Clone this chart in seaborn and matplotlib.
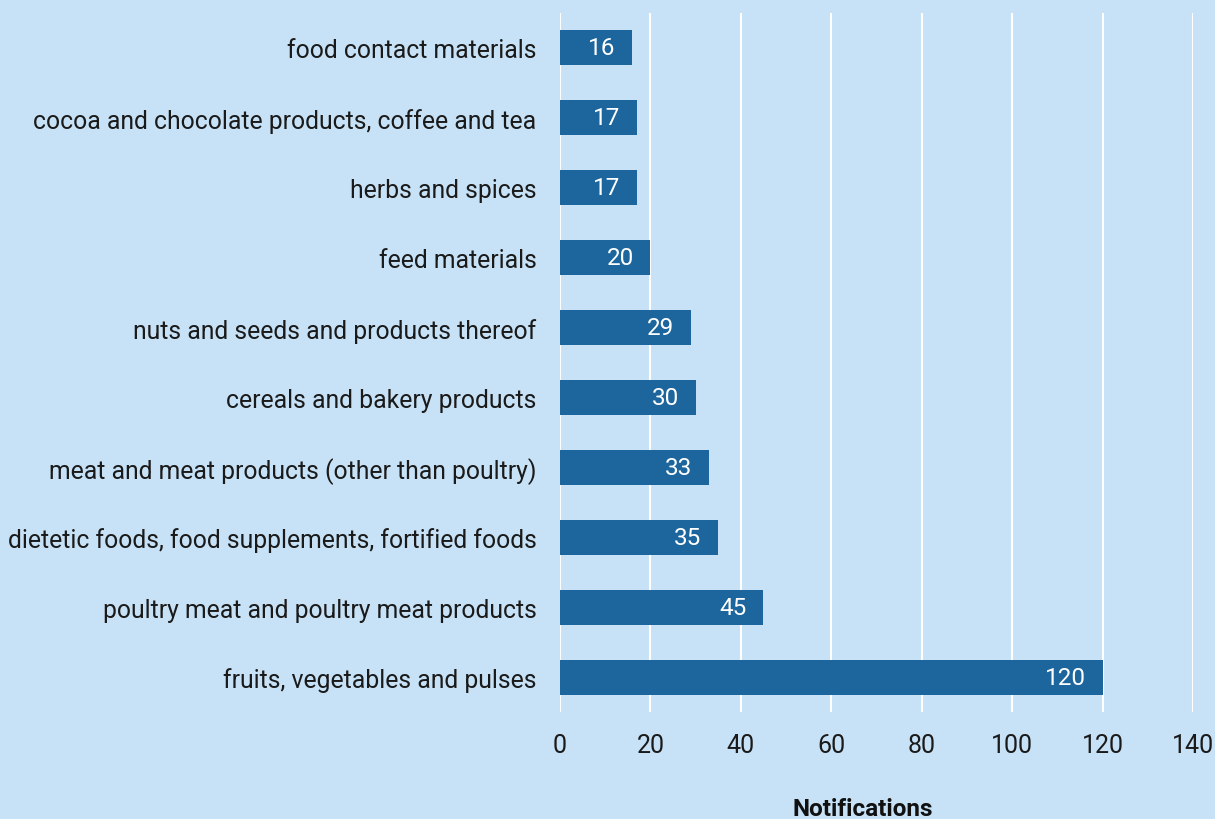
import matplotlib

matplotlib.use("Agg")

import matplotlib.pyplot as plt
import pandas as pd
import seaborn as sns

categories = [
    "food contact materials",
    "cocoa and chocolate products, coffee and tea",
    "herbs and spices",
    "feed materials",
    "nuts and seeds and products thereof",
    "cereals and bakery products",
    "meat and meat products (other than poultry)",
    "dietetic foods, food supplements, fortified foods",
    "poultry meat and poultry meat products",
    "fruits, vegetables and pulses",
]
notifications = [16, 17, 17, 20, 29, 30, 33, 35, 45, 120]
x_ticks = [0, 20, 40, 60, 80, 100, 120, 140]

BG = "#C7E2F6"
BAR = "#1C659D"

sns.set_theme(style="white")
plt.rcParams["font.family"] = ["Roboto", "DejaVu Sans"]

data = pd.DataFrame({"category": categories, "notifications": notifications})

fig = plt.figure(figsize=(12.15, 8.2), dpi=100)
fig.patch.set_facecolor(BG)
ax = fig.add_axes([560 / 1215, 1 - 713 / 820, 633 / 1215, 699 / 820])
ax.set_facecolor(BG)

sns.barplot(data=data, y="category", x="notifications", orient="h",
            color=BAR, saturation=1, width=0.5, linewidth=0, ax=ax, zorder=3)

# value labels sit inside the bar end, right aligned
labels = ax.bar_label(ax.containers[0], padding=-12, color="white", fontsize=17.5)
for t in labels:
    t.set_ha("right")

ax.set_xlim(0, 140)
ax.set_ylim(len(categories) - 0.5, -0.5)
ax.set_xticks(x_ticks)
ax.grid(axis="x", color="white", linewidth=1.5, zorder=0)
ax.grid(axis="y", visible=False)
for spine in ax.spines.values():
    spine.set_visible(False)

ax.tick_params(axis="x", length=0, pad=15, labelsize=18, labelcolor="#1a1a1a")
ax.tick_params(axis="y", length=0, pad=17, labelsize=17.8, labelcolor="#1a1a1a")
ax.set_ylabel("")
ax.set_xlabel("Notifications", fontsize=17.5, fontweight="bold", color="#111111")
ax.xaxis.set_label_coords(0.478, -0.138)
ax.xaxis.label.set_va("center")

fig.savefig("out.png", dpi=100, facecolor=BG)
